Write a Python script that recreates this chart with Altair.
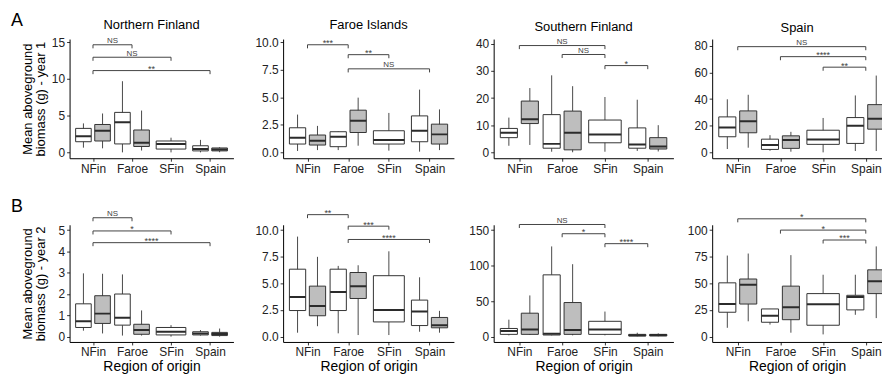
import altair as alt
import pandas as pd

regions = ["NFin", "Faroe", "SFin", "Spain"]
box_region = ["NFin", "NFin", "Faroe", "Faroe", "SFin", "Spain", "Spain"]
box_group = ["white", "grey", "white", "grey", "single", "white", "grey"]

# five-number summaries: lower whisker, q1, median, q3, upper whisker
y1_nfin_stats = [
    [0.64, 1.45, 2.2, 3.27, 3.95],
    [0.55, 1.55, 2.95, 3.8, 5.3],
    [0.0, 1.15, 4.1, 5.45, 9.7],
    [0.25, 0.8, 1.3, 3.05, 5.7],
    [0.0, 0.45, 1.15, 1.55, 2.0],
    [0.0, 0.2, 0.45, 0.9, 1.7],
    [0.02, 0.2, 0.38, 0.6, 0.7],
]
y1_faroe_stats = [
    [0.12, 0.75, 1.33, 2.23, 3.43],
    [0.2, 0.66, 1.05, 1.57, 2.4],
    [0.2, 0.51, 1.42, 1.87, 1.9],
    [0.6, 1.8, 2.86, 3.83, 4.97],
    [0.15, 0.75, 1.11, 1.96, 3.58],
    [0.06, 0.96, 1.96, 3.31, 5.7],
    [0.2, 0.75, 1.63, 2.56, 3.9],
]
y1_sfin_stats = [
    [2.4, 5.4, 7.2, 8.8, 12.8],
    [2.7, 10.6, 12.2, 18.9, 23.7],
    [0.2, 1.5, 3.1, 13.9, 28.4],
    [0.0, 0.9, 7.2, 15.2, 24.4],
    [0.2, 3.5, 6.6, 11.9, 20.4],
    [0.5, 1.5, 2.9, 9.0, 19.4],
    [0.3, 1.2, 2.1, 5.4, 10.0],
]
y1_spain_stats = [
    [2.5, 11.7, 18.6, 26.6, 39.8],
    [3.5, 14.7, 23.4, 31.1, 43.2],
    [1.2, 2.2, 5.5, 9.9, 12.9],
    [0.5, 3.0, 9.2, 12.4, 15.4],
    [0.0, 6.0, 9.7, 16.6, 25.8],
    [1.0, 6.7, 19.9, 26.1, 42.7],
    [1.0, 17.4, 25.3, 35.8, 57.6],
]
y2_nfin_stats = [
    [0.28, 0.43, 0.72, 1.54, 2.97],
    [0.15, 0.62, 1.08, 1.92, 2.95],
    [0.05, 0.54, 0.89, 2.0, 2.92],
    [0.05, 0.11, 0.31, 0.58, 1.23],
    [0.0, 0.08, 0.23, 0.43, 0.54],
    [0.05, 0.08, 0.15, 0.23, 0.31],
    [0.0, 0.05, 0.12, 0.2, 0.38],
]
y2_faroe_stats = [
    [0.37, 2.45, 3.73, 6.33, 9.39],
    [0.98, 1.96, 2.87, 4.74, 7.49],
    [0.31, 2.45, 4.19, 6.33, 6.64],
    [0.15, 3.58, 4.74, 6.02, 6.7],
    [0.15, 1.38, 2.51, 5.72, 8.01],
    [0.46, 1.04, 2.35, 3.43, 5.57],
    [0.37, 0.83, 1.07, 1.8, 2.42],
]
y2_sfin_stats = [
    [1.8, 3.2, 7.8, 11.5, 23.9],
    [2.3, 3.2, 10.1, 33.0, 58.0],
    [1.8, 2.3, 4.1, 87.0, 127.0],
    [1.8, 3.2, 9.2, 48.0, 102.0],
    [1.8, 3.2, 10.1, 21.6, 35.3],
    [0.5, 0.9, 1.8, 3.2, 5.5],
    [0.5, 0.9, 2.3, 3.2, 4.6],
]
y2_spain_stats = [
    [8.3, 22.9, 30.6, 50.5, 76.1],
    [14.4, 30.6, 48.6, 54.1, 78.0],
    [11.3, 13.5, 19.6, 26.0, 26.0],
    [3.7, 15.9, 27.5, 47.4, 76.5],
    [2.1, 10.7, 30.3, 40.4, 58.1],
    [20.5, 25.1, 37.3, 38.8, 58.1],
    [17.4, 40.4, 52.0, 62.7, 84.7],
]

# significance brackets: from, to, height, label
y1_nfin_sig = [("NFin", "Faroe", 14.67, "NS"), ("NFin", "SFin", 12.97, "NS"), ("NFin", "Spain", 11.15, "**")]
y1_faroe_sig = [("NFin", "Faroe", 9.78, "***"), ("Faroe", "SFin", 8.88, "**"), ("Faroe", "Spain", 7.59, "NS")]
y1_sfin_sig = [("NFin", "SFin", 39.4, "NS"), ("Faroe", "SFin", 36.1, "NS"), ("SFin", "Spain", 32.0, "*")]
y1_spain_sig = [("NFin", "Spain", 79.3, "NS"), ("Faroe", "Spain", 71.8, "****"), ("SFin", "Spain", 63.9, "**")]
y2_nfin_sig = [("NFin", "Faroe", 5.58, "NS"), ("NFin", "SFin", 4.96, "*"), ("NFin", "Spain", 4.41, "****")]
y2_faroe_sig = [("NFin", "Faroe", 11.45, "**"), ("Faroe", "SFin", 10.37, "***"), ("Faroe", "Spain", 9.12, "****")]
y2_sfin_sig = [("NFin", "SFin", 157.9, "NS"), ("Faroe", "SFin", 144.9, "*"), ("SFin", "Spain", 130.9, "****")]
y2_spain_sig = [("NFin", "Spain", 110.6, "*"), ("Faroe", "Spain", 100.0, "*"), ("SFin", "Spain", 90.7, "***")]

panel_titles = ["Northern Finland", "Faroe Islands", "Southern Finland", "Spain"]
row_letters = ["A", "B"]
y1_domains = [[-0.8, 15.45], [-0.54, 10.3], [-2.2, 41.8], [-4.4, 85.0]]
y2_domains = [[-0.25, 5.25], [-0.5, 10.5], [-7.5, 157.5], [-5.0, 105.0]]
y1_ticks = [[0, 5, 10, 15], [0, 2.5, 5, 7.5, 10], [0, 10, 20, 30, 40], [0, 20, 40, 60, 80]]
y2_ticks = [[0, 1, 2, 3, 4, 5], [0, 2.5, 5, 7.5, 10], [0, 50, 100, 150], [0, 25, 50, 75, 100]]
tick_formats = ["d", ".1f", "d", "d"]
panel_widths = [165, 172, 181, 171]
x_max = [4.6, 4.6, 4.6, 4.38]
gap_widths = [50, 40, 39]

FONT = "Liberation Sans"
REG_ARR = "['NFin','Faroe','SFin','Spain']"


def panel(stats, sig, domain, ticks, fmt, width, xmax, height, title=None,
          ytitle=None, xtitle=None):
    boxes = pd.DataFrame({
        "region": box_region, "group": box_group,
        "lower": [s[0] for s in stats], "q1": [s[1] for s in stats],
        "median": [s[2] for s in stats], "q3": [s[3] for s in stats],
        "upper": [s[4] for s in stats],
    })
    tip = 0.03 * (domain[1] - domain[0])
    brackets = pd.DataFrame({
        "a": [s[0] for s in sig], "b": [s[1] for s in sig],
        "level": [s[2] for s in sig], "label": [s[3] for s in sig],
    })
    brackets["tipy"] = brackets["level"] - tip

    xscale = alt.Scale(domain=[0.4, xmax], nice=False, zero=False)
    yscale = alt.Scale(domain=domain, nice=False, zero=False)
    xaxis_kw = dict(values=[1, 2, 3, 4], labelExpr=REG_ARR + "[datum.value - 1]",
                    grid=False, labelPadding=2, titlePadding=2, titleFontSize=14)
    xaxis = alt.Axis(title=xtitle, **xaxis_kw) if xtitle else alt.Axis(title=None, **xaxis_kw)
    yaxis_kw = dict(values=ticks, format=fmt, grid=False, labelPadding=2)
    if ytitle:
        yaxis = alt.Axis(title=ytitle, titlePadding=3, titleLineHeight=13,
                         minExtent=19, maxExtent=19, **yaxis_kw)
    else:
        yaxis = alt.Axis(title=None, **yaxis_kw)

    def X(f):
        return alt.X(f, scale=xscale, axis=xaxis)

    def Y(f):
        return alt.Y(f, scale=yscale, axis=yaxis)

    bx = alt.Chart(boxes).transform_calculate(
        xc="indexof(" + REG_ARR + ", datum.region) + 1 + "
           "(datum.group === 'white' ? -0.245 : (datum.group === 'grey' ? 0.245 : 0))",
        hw="datum.group === 'single' ? 0.38 : 0.2",
    ).transform_calculate(xl="datum.xc - datum.hw", xr="datum.xc + datum.hw")

    whisk = bx.mark_rule(color="#4a4a4a", strokeWidth=1, clip=True).encode(
        x=X("xc:Q"), y=Y("lower:Q"), y2="upper:Q")
    box = bx.mark_bar(stroke="#333333", strokeWidth=1, clip=True).encode(
        x=X("xl:Q"), x2="xr:Q", y=Y("q1:Q"), y2="q3:Q",
        color=alt.Color("group:N", legend=None,
                        scale=alt.Scale(domain=["white", "grey", "single"],
                                        range=["#FFFFFF", "#BEBEBE", "#FFFFFF"])))
    med = bx.mark_rule(color="#2b2b2b", strokeWidth=2, clip=True).encode(
        x=X("xl:Q"), x2="xr:Q", y=Y("median:Q"))

    br = alt.Chart(brackets).transform_calculate(
        x1="indexof(" + REG_ARR + ", datum.a) + 1",
        x2="indexof(" + REG_ARR + ", datum.b) + 1",
    ).transform_calculate(xm="(datum.x1 + datum.x2) / 2")
    hline = br.mark_rule(color="#444444", strokeWidth=1).encode(
        x=X("x1:Q"), x2="x2:Q", y=Y("level:Q"))
    tip1 = br.mark_rule(color="#444444", strokeWidth=1).encode(
        x=X("x1:Q"), y=Y("level:Q"), y2="tipy:Q")
    tip2 = br.mark_rule(color="#444444", strokeWidth=1).encode(
        x=X("x2:Q"), y=Y("level:Q"), y2="tipy:Q")
    txt_ns = br.transform_filter("datum.label === 'NS'").mark_text(
        font=FONT, fontSize=8, fill="#444444", baseline="alphabetic", dy=-1.5).encode(
        x=X("xm:Q"), y=Y("level:Q"), text="label:N")
    txt_st = br.transform_filter("datum.label !== 'NS'").mark_text(
        font=FONT, fontSize=9, fill="#444444", baseline="alphabetic", dy=1.5).encode(
        x=X("xm:Q"), y=Y("level:Q"), text="label:N")

    layers = [whisk, box, med, hline, tip1, tip2, txt_ns, txt_st]
    props = dict(width=width, height=height)
    if title:
        props["title"] = alt.TitleParams(title, fontSize=13, font=FONT, fontWeight="normal",
                                         color="#000000", offset=4, anchor="middle",
                                         frame="group")
    return alt.layer(*layers).properties(**props)


def letter_cell(letter, height):
    return alt.Chart(pd.DataFrame({"t": [letter]})).mark_text(
        font=FONT, fontSize=18, fill="#000000", align="left", baseline="alphabetic"
    ).encode(x=alt.value(-58), y=alt.value(-13), text="t:N").properties(width=1, height=height)


def spacer(w):
    return alt.Chart(pd.DataFrame({"s": [0]})).mark_point(opacity=0).encode(
        x=alt.value(0), y=alt.value(0)).properties(width=w, height=60)


y1_stats = [y1_nfin_stats, y1_faroe_stats, y1_sfin_stats, y1_spain_stats]
y2_stats = [y2_nfin_stats, y2_faroe_stats, y2_sfin_stats, y2_spain_stats]
y1_sigs = [y1_nfin_sig, y1_faroe_sig, y1_sfin_sig, y1_spain_sig]
y2_sigs = [y2_nfin_sig, y2_faroe_sig, y2_sfin_sig, y2_spain_sig]

cells = []
for row in range(2):
    cells.append(letter_cell(row_letters[row], 60))
    for i in range(4):
        if row == 0:
            p = panel(y1_stats[i], y1_sigs[i], y1_domains[i], y1_ticks[i], tick_formats[i],
                      panel_widths[i], x_max[i], 120, title=panel_titles[i],
                      ytitle=["Mean aboveground", "biomass (g) - year 1"] if i == 0 else None)
        else:
            p = panel(y2_stats[i], y2_sigs[i], y2_domains[i], y2_ticks[i], tick_formats[i],
                      panel_widths[i], x_max[i], 118,
                      ytitle=["Mean aboveground", "biomass (g) - year 2"] if i == 0 else None,
                      xtitle="Region of origin")
        cells.append(p)
        if i < 3:
            cells.append(spacer(gap_widths[i]))

chart = alt.concat(*cells, columns=8, spacing={"row": 67, "column": 0},
                   align="each", bounds="flush").properties(
    padding={"left": 3, "top": 3, "right": 0, "bottom": 0}
).configure_view(stroke=None).configure_axis(
    domainColor="#000000", domainWidth=1, tickColor="#333333", tickSize=3,
    labelFont=FONT, labelFontSize=12, labelColor="#222222",
    titleFont=FONT, titleFontSize=13, titleColor="#000000", titleFontWeight="normal"
)

chart.save("out.html", embed_options={"renderer": "svg", "actions": False})
